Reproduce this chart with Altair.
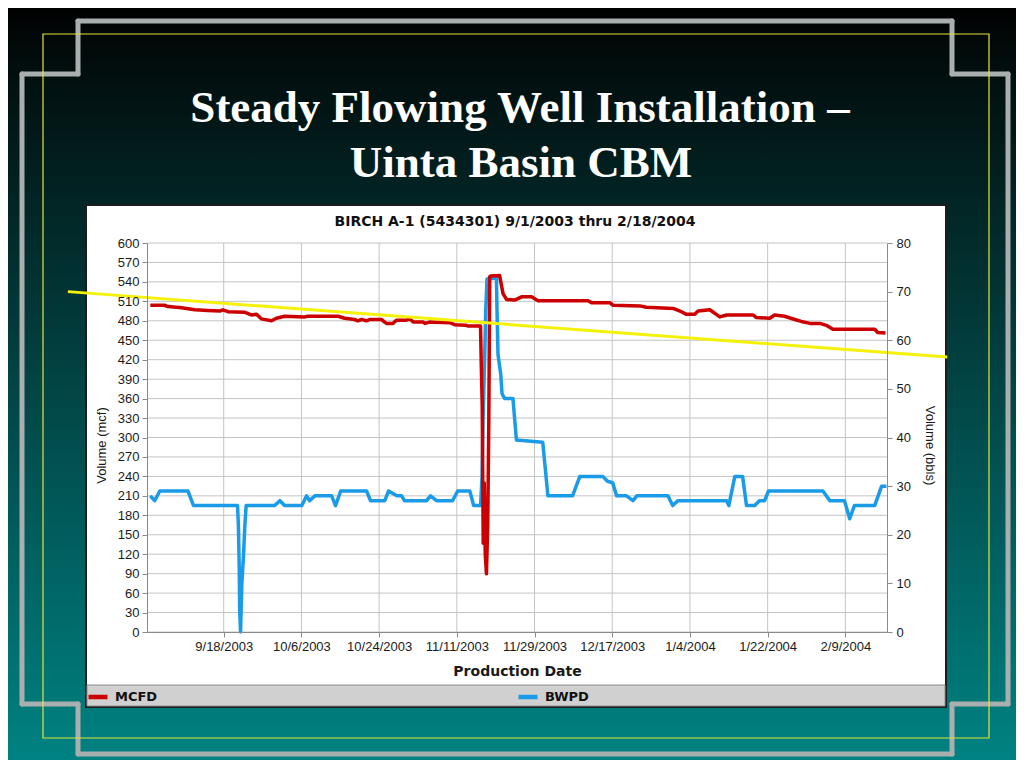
import altair as alt
import pandas as pd

START = "2003-09-01"

# MCFD (gas, left axis) - day offset from 9/1/2003 and value
red_day = [0.0, 3.3, 4.1, 7.2, 10.3, 13.3, 16.1, 16.8, 18.0, 21.9, 23.4, 24.6, 25.7, 28.1, 29.2,
           31.1, 35.8, 36.5, 43.5, 45.0, 47.3, 48.1, 48.9, 50.1, 50.8, 53.5, 54.7, 56.2, 57.0,
           59.3, 60.1, 60.9, 63.2, 63.6, 64.7, 69.4, 70.5, 73.2, 73.6, 76.49, 76.67, 76.88,
           77.11, 77.35, 77.58, 77.86, 78.16, 78.4, 78.62, 78.85, 80.9, 81.7, 82.5, 84.4, 86.0,
           88.3, 89.8, 101.4, 102.2, 106.4, 107.2, 113.4, 114.9, 121.1, 123.0, 124.2, 126.1,
           126.9, 129.6, 131.9, 133.5, 139.6, 140.4, 143.5, 144.6, 146.9, 149.3, 150.8, 152.8,
           155.1, 156.6, 158.1, 167.8, 168.5, 170.3]
red_val = [504, 504, 502, 500, 497, 496, 495, 497, 494, 493, 489, 490, 483, 480, 484,
           487, 486, 487, 487, 484, 482, 480, 482, 480, 482, 482, 476, 476, 481,
           481, 483, 478, 478, 476, 478, 477, 474, 473, 472, 472, 410, 350,
           137, 230, 120, 90, 165, 320, 548, 549, 550, 522, 513, 512, 517,
           517, 511, 511, 508, 508, 504, 503, 501, 499, 494, 490, 490,
           495, 497, 486, 489, 489, 485, 484, 489, 487, 482, 479, 476,
           476, 473, 467, 467, 462, 461]

# BWPD (water, right axis)
blue_day = [0.0, 1.0, 2.2, 8.7, 10.0, 20.2, 20.4, 20.6, 20.7, 20.9, 21.2, 21.6, 21.9, 22.2,
            28.8, 30.0, 31.1, 35.1, 36.2, 36.9, 38.1, 42.0, 42.9, 44.1, 50.1, 51.0, 54.3,
            55.2, 57.1, 58.2, 58.9, 64.0, 64.9, 66.3, 70.0, 71.2, 74.0, 74.9, 76.5, 76.84,
            77.07, 77.46, 77.69, 77.99, 80.17, 80.31, 80.54, 81.17, 81.47, 82.1, 84.0, 84.8,
            90.9, 92.1, 97.8, 99.5, 104.8, 105.9, 107.1, 108.0, 110.3, 111.8, 112.7, 119.9,
            121.0, 122.2, 133.5, 134.0, 135.4, 137.2, 138.1, 140.0, 141.1, 142.3, 143.2,
            155.8, 157.4, 160.8, 162.0, 163.1, 167.8, 169.4, 170.5]
blue_val = [28, 27, 29, 29, 26, 26, 22, 13, 4.5, 0, 10, 16, 22, 26,
            26, 27, 26, 26, 28, 27, 28, 28, 26, 29, 29, 27, 27,
            29, 28, 28, 27, 27, 28, 27, 27, 29, 29, 26, 26, 32,
            43.6, 57, 66, 72.6, 72.8, 66, 57, 53, 49, 48, 48, 39.5,
            39, 28, 28, 32, 32, 31, 30.7, 28, 28, 27, 28, 28,
            26, 27, 27, 26, 32, 32, 26, 26, 27, 27, 29,
            29, 27, 27, 23.3, 26, 26, 30, 30]

# hand-drawn yellow trend line (endpoints)
trend_day = [-19.1, 184.6]
trend_val = [525, 424]

x_tick_dates = ["2003-09-18", "2003-10-06", "2003-10-24", "2003-11-11", "2003-11-29",
                "2003-12-17", "2004-01-04", "2004-01-22", "2004-02-09"]
left_ticks = list(range(0, 601, 30))
right_ticks = list(range(0, 81, 10))


def to_dates(days):
    return (pd.Timestamp(START) + pd.to_timedelta(days, unit="D")).round("min")


red_df = pd.DataFrame({"date": to_dates(red_day), "value": red_val, "series": "MCFD"})
blue_df = pd.DataFrame({"date": to_dates(blue_day), "value": blue_val, "series": "BWPD"})
trend_df = pd.DataFrame({"date": to_dates(trend_day), "value": trend_val})
xgrid_df = pd.DataFrame({"date": pd.to_datetime(x_tick_dates)})
ygrid_df = pd.DataFrame({"v": left_ticks})
one = pd.DataFrame({"k": [0]})

OX, OY = 147, 243  # page position of plot origin


def px(v):
    return v - OX


def py(v):
    return v - OY


xs = alt.Scale(domain=[alt.DateTime(year=2003, month=8, date=31, hours=5, minutes=30),
                       alt.DateTime(year=2004, month=2, date=18, hours=15, minutes=30)])
tick_dt = [alt.DateTime(year=int(d[:4]), month=int(d[5:7]), date=int(d[8:10])) for d in x_tick_dates]

AX_FONT = "Liberation Sans"
BOLD_FONT = "DejaVu Sans"
AX_COMMON = dict(zindex=1, labelFont=AX_FONT, labelFontSize=13, labelColor="#1a1a1a",
                 titleFont=AX_FONT, titleFontSize=13, titleFontWeight="normal",
                 titleColor="#1a1a1a", tickColor="#8a8a8a", domainColor="#8a8a8a",
                 grid=False, tickSize=5)

x_axis = alt.Axis(values=tick_dt, format="%-m/%-d/%Y", title="Production Date",
                  labelPadding=3, labelOverlap=False, labelFlush=False, titlePadding=11,
                  **{**AX_COMMON, "titleFont": BOLD_FONT, "titleFontWeight": "bold",
                     "titleFontSize": 14})


def xenc():
    return alt.X("date:T", scale=xs, axis=x_axis)


# --- decoration layers ---
bg = alt.Chart(one).mark_rect(
    fill={"gradient": "linear", "x1": 0, "y1": 0, "x2": 0, "y2": 1,
          "stops": [{"offset": 0, "color": "#000000"},
                    {"offset": 0.03, "color": "#020707"},
                    {"offset": 0.5, "color": "#024444"},
                    {"offset": 1, "color": "#008282"}]}
).encode(x=alt.value(px(8)), x2=alt.value(px(1016)), y=alt.value(py(8)), y2=alt.value(py(760)))

frame_pts = [(78, 21), (952, 21), (952, 74), (1008, 74), (1008, 704), (952, 704), (952, 754),
             (78, 754), (78, 704), (22, 704), (22, 74), (78, 74), (78, 21)]
frame_layers = []
for (x1, y1), (x2, y2) in zip(frame_pts[:-1], frame_pts[1:]):
    frame_layers.append(
        alt.Chart(one).mark_rule(color="#a9aeae", strokeWidth=5, strokeCap="round").encode(
            x=alt.value(px(x1)), x2=alt.value(px(x2)), y=alt.value(py(y1)), y2=alt.value(py(y2)))
    )

yrect = alt.Chart(one).mark_rect(fillOpacity=0, stroke="#e4e43a", strokeWidth=1.2).encode(
    x=alt.value(px(43)), x2=alt.value(px(989)), y=alt.value(py(34)), y2=alt.value(py(738)))

title1 = alt.Chart(one).mark_text(
    text="Steady Flowing Well Installation \u2013", font="Liberation Serif", fontWeight="bold",
    fontSize=45, color="white", align="center", baseline="alphabetic"
).encode(x=alt.value(px(520)), y=alt.value(py(122)))
title2 = alt.Chart(one).mark_text(
    text="Uinta Basin CBM", font="Liberation Serif", fontWeight="bold",
    fontSize=45, color="white", align="center", baseline="alphabetic"
).encode(x=alt.value(px(521)), y=alt.value(py(177)))

panel = alt.Chart(one).mark_rect(fill="white", stroke="#1c1c1c", strokeWidth=2).encode(
    x=alt.value(px(86)), x2=alt.value(px(946)), y=alt.value(py(205)), y2=alt.value(py(707)))
legbar = alt.Chart(one).mark_rect(fill="#d0d0d0", stroke="#8c8c8c", strokeWidth=1).encode(
    x=alt.value(px(87)), x2=alt.value(px(945)), y=alt.value(py(685)), y2=alt.value(py(706)))

chart_title = alt.Chart(one).mark_text(
    text="BIRCH A-1 (5434301) 9/1/2003 thru 2/18/2004", font=BOLD_FONT, fontWeight="bold",
    fontSize=14, color="#111111", align="center", baseline="alphabetic"
).encode(x=alt.value(px(515)), y=alt.value(py(226)))

# --- grid ---
xgrid = alt.Chart(xgrid_df).mark_rule(color="#c4c4c4", strokeWidth=1).encode(x=xenc())
ygrid = alt.Chart(ygrid_df).mark_rule(color="#c4c4c4", strokeWidth=1).encode(
    y=alt.Y("v:Q", scale=alt.Scale(domain=[0, 600]), axis=None))

color = alt.Color(
    "series:N",
    scale=alt.Scale(domain=["MCFD", "BWPD"], range=["#cc0000", "#1a9be8"]),
    legend=alt.Legend(title=None, orient="none", legendX=-61, legendY=442, direction="horizontal",
                      columns=2, columnPadding=351, symbolType="stroke", symbolSize=360,
                      symbolStrokeWidth=4.5, labelFont=BOLD_FONT, labelFontWeight="bold",
                      labelFontSize=13, labelColor="#111111", labelOffset=5, padding=0,
                      zindex=1),
)

blue = alt.Chart(blue_df).mark_line(strokeWidth=3.5, strokeJoin="round").encode(
    x=xenc(),
    y=alt.Y("value:Q", scale=alt.Scale(domain=[0, 80]),
            axis=alt.Axis(orient="right", values=right_ticks, title="Volume (bbls)",
                          labelPadding=4, titlePadding=12, titleY=202, **AX_COMMON)),
    color=color,
)

red = alt.Chart(red_df).mark_line(strokeWidth=3.5, strokeJoin="round").encode(
    x=xenc(),
    y=alt.Y("value:Q", scale=alt.Scale(domain=[0, 600]),
            axis=alt.Axis(orient="left", values=left_ticks, title="Volume (mcf)",
                          labelPadding=3, titlePadding=9, titleY=202, **AX_COMMON)),
    color=color,
)

trend = alt.Chart(trend_df).mark_line(color="#f4f20a", strokeWidth=3).encode(
    x=xenc(),
    y=alt.Y("value:Q", scale=alt.Scale(domain=[0, 600]), axis=None),
)

chart = alt.layer(
    bg, *frame_layers, yrect, title1, title2, panel, legbar, chart_title,
    xgrid, ygrid, blue, red, trend
).resolve_scale(y="independent").properties(
    width=740, height=389,
    autosize=alt.AutoSizeParams(type="none"),
    padding={"left": 139, "top": 235, "right": 129, "bottom": 128},
).configure_view(stroke=None)

chart.save("out.html", embed_options={"renderer": "svg", "actions": False})
